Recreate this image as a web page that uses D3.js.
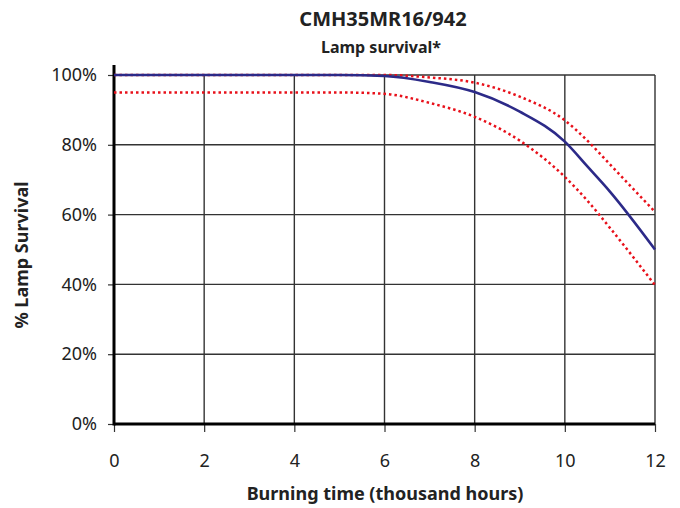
<!DOCTYPE html>
<html>
<head>
<meta charset="utf-8">
<script src="https://cdn.jsdelivr.net/npm/d3@7"></script>
<style>
  body { margin: 0; background: #fff; }
  text { font-family: "Noto Sans", sans-serif; fill: #222; }
</style>
</head>
<body>
<div id="chart"></div>
<script>
const hours = [0, 1, 2, 3, 4, 5, 6, 7, 8, 9, 10, 10.5, 11, 12];
const survival = [100, 100, 100, 100, 100, 100, 99.7, 98, 95.1, 89.5, 80.9, 73.8, 66.6, 50];
const upperBound = [100, 100, 100, 100, 100, 100, 100, 99.3, 97.8, 93.8, 87, 81.2, 74.4, 60.8];
const lowerBound = [95, 95, 95, 95, 95, 95, 94.6, 92, 88, 81.2, 70.8, 64, 56.2, 39.8];
const xTicks = [0, 2, 4, 6, 8, 10, 12];
const yTicks = [0, 20, 40, 60, 80, 100];

const width = 680, height = 508;
const margin = {left: 114, right: 25, top: 75, bottom: 84};

const svg = d3.select("#chart").append("svg")
    .attr("width", width)
    .attr("height", height);

const x = d3.scaleLinear().domain([0, 12]).range([margin.left, width - margin.right]);
const y = d3.scaleLinear().domain([0, 100]).range([height - margin.bottom, margin.top]);

// grid
svg.append("g").selectAll("line")
    .data(xTicks.slice(1))
    .enter().append("line")
    .attr("x1", d => x(d)).attr("x2", d => x(d))
    .attr("y1", y(0)).attr("y2", y(100))
    .attr("stroke", "#333").attr("stroke-width", 1.4);

svg.append("g").selectAll("line")
    .data(yTicks.slice(1))
    .enter().append("line")
    .attr("x1", x(0)).attr("x2", x(12))
    .attr("y1", d => y(d)).attr("y2", d => y(d))
    .attr("stroke", "#333").attr("stroke-width", 1.4);

// axes
const xAxis = svg.append("g")
    .attr("transform", `translate(0,${y(0)})`)
    .call(d3.axisBottom(x).tickValues(xTicks).tickSize(8).tickPadding(22));
const yAxis = svg.append("g")
    .attr("transform", `translate(${x(0)},0)`)
    .call(d3.axisLeft(y).tickValues(yTicks).tickSize(6).tickPadding(11).tickFormat(d => d + "%"));

[xAxis, yAxis].forEach(a => {
    a.select(".domain").remove();
    a.selectAll(".tick line").attr("stroke", "#333").attr("stroke-width", 1.2);
    a.selectAll("text").style("font-size", "18px").style("fill", "#222");
});

svg.append("line")
    .attr("x1", x(0)).attr("x2", x(12))
    .attr("y1", y(0)).attr("y2", y(0))
    .attr("stroke", "#000").attr("stroke-width", 3);
svg.append("line")
    .attr("x1", x(0)).attr("x2", x(0))
    .attr("y1", y(0) + 1.5).attr("y2", y(100) - 10)
    .attr("stroke", "#000").attr("stroke-width", 3);

// curves
const line = d3.line()
    .x((d, i) => x(hours[i]))
    .y(d => y(d))
    .curve(d3.curveMonotoneX);

svg.append("path").datum(upperBound)
    .attr("d", line).attr("fill", "none")
    .attr("stroke", "#e8101a").attr("stroke-width", 2.5)
    .attr("stroke-dasharray", "2.5,3");
svg.append("path").datum(lowerBound)
    .attr("d", line).attr("fill", "none")
    .attr("stroke", "#e8101a").attr("stroke-width", 2.5)
    .attr("stroke-dasharray", "2.5,3");
svg.append("path").datum(survival)
    .attr("d", line).attr("fill", "none")
    .attr("stroke", "#2c2a88").attr("stroke-width", 2.6);

// titles
svg.append("text")
    .attr("x", 383).attr("y", 26)
    .attr("text-anchor", "middle")
    .style("font-size", "20px").style("font-weight", "bold")
    .text("CMH35MR16/942");
svg.append("text")
    .attr("x", 381).attr("y", 53)
    .attr("text-anchor", "middle")
    .style("font-size", "16px").style("font-weight", "bold")
    .text("Lamp survival*");
svg.append("text")
    .attr("x", 385).attr("y", 500)
    .attr("text-anchor", "middle")
    .style("font-size", "18px").style("font-weight", "bold")
    .text("Burning time (thousand hours)");
svg.append("text")
    .attr("transform", `translate(28,255) rotate(-90)`)
    .attr("text-anchor", "middle")
    .style("font-size", "18px").style("font-weight", "bold")
    .text("% Lamp Survival");
</script>
</body>
</html>
